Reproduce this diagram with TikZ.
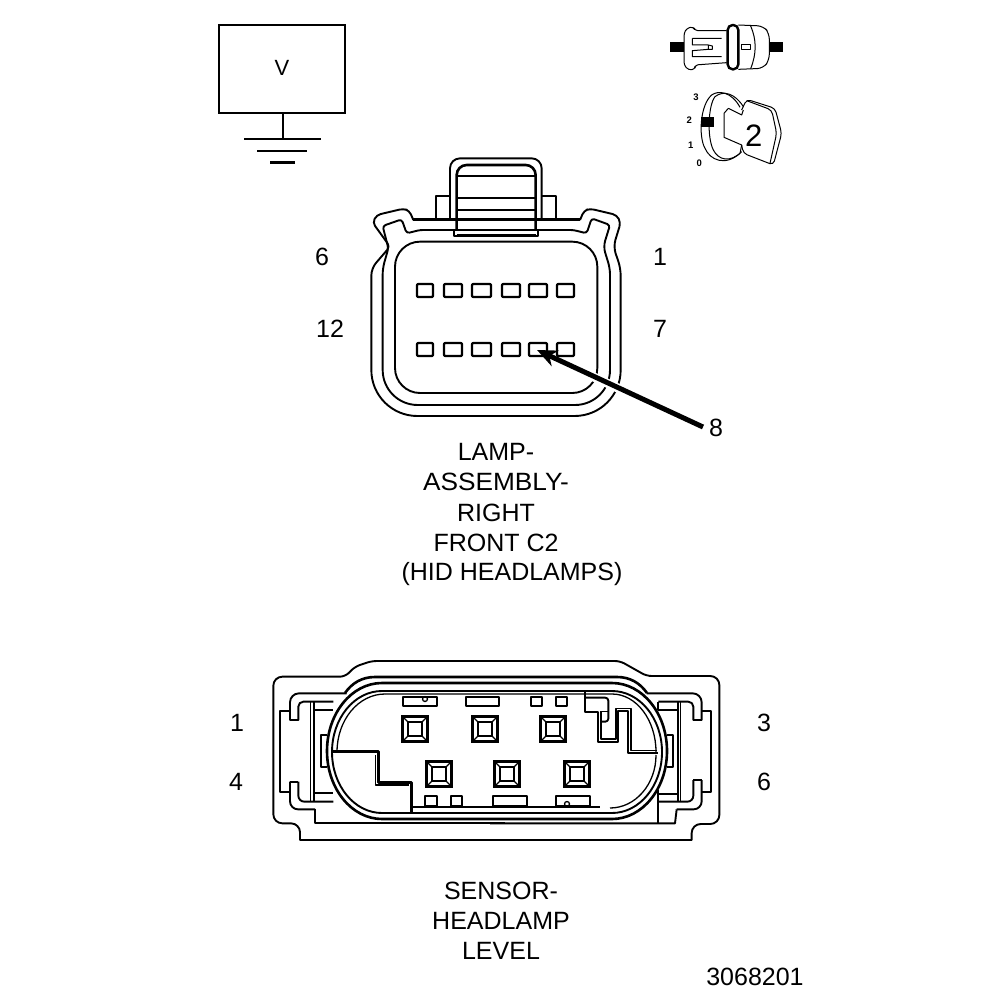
\documentclass[tikz,border=0pt]{standalone}
\usepackage{fontspec}
\setmainfont{Liberation Sans}
\usetikzlibrary{arrows.meta}
\tikzset{
  x=1pt,y=-1pt,
  thinl/.style={line width=1.3pt,line join=round},
  medl/.style={line width=1.9pt,line join=round},
  heavy/.style={line width=2.6pt,line join=round},
  lbl/.style={font=\fontsize{25}{25}\selectfont,inner sep=0pt,anchor=center},
  zoomI/.style={shift={(660,10)},scale=0.33333},
  zoomC/.style={shift={(360,150)},scale=0.33333},
  zoomL/.style={shift={(265,650)},scale=0.33333},
  zoomR/.style={shift={(490,650)},scale=0.33333},
  pinbox/.style={line width=2.2pt,line join=round,rounded corners=1pt},
  tabbox/.style={medl},
  iconl/.style={line width=1pt,line join=round},
  smallnum/.style={font=\bfseries\fontsize{9.5}{10}\selectfont,inner sep=0pt},
}
\newcommand{\sqpin}[2]{%
  \begin{scope}[shift={(#1,#2)}]
    \draw[line width=2.8pt] (-12.5,-12.5) rectangle (12.5,12.5);
    \draw[medl] (-7,-7) rectangle (7,7);
    \draw[thinl] (-12.5,-12.5)--(-7,-7) (12.5,-12.5)--(7,-7) (12.5,12.5)--(7,7) (-12.5,12.5)--(-7,7);
  \end{scope}}
\begin{document}
\begin{tikzpicture}
\useasboundingbox (0,0) rectangle (1008,1000);
\fill[white] (0,0) rectangle (1008,1000);

% voltmeter symbol
\draw[line width=2.4pt] (219,25) rectangle (345,113);
\node[font=\fontsize{22}{22}\selectfont,inner sep=0pt] (vlabel) at (282,68) {V};
\coordinate (stemtop) at (283,113);
\coordinate (stemend) at (283,139);
\draw[medl] (stemtop)--(stemend);
\draw[line width=2.4pt] (244,139)--(321,139);
\draw[medl] (257,151)--(307,151);
\draw[line width=3pt] (270,163)--(295,163);

% connector icon
\begin{scope}[zoomI]
  \fill (30,97) rectangle (72,127);
  \fill (328,97) rectangle (368,127);
  \draw[iconl,rounded corners=3pt] (200,62)--(105,62)--(100,50)--(80,55)--(72,70)--(72,165)--(85,180)--(105,178)--(105,165)--(200,158);
  \draw[iconl] (97,85)--(185,85) (97,85)--(97,105)--(145,105)--(145,118)--(97,122)--(97,140)--(185,140)
     (145,105)--(157,108)--(157,118)--(145,118);
  \draw[line width=2.4pt,rounded corners=5pt] (203,45) rectangle (235,178);
  \draw[iconl,rounded corners=6pt] (235,45)--(310,48)--(328,70)--(328,150)--(310,175)--(235,178);
  \draw[iconl] (272,48) .. controls (290,90) and (290,130) .. (272,176);
  \draw[iconl] (245,105) rectangle (272,118);
\end{scope}

% ignition key icon
\begin{scope}[zoomI]
  \draw[iconl] (240,292) .. controls (215,245) and (175,240) .. (155,255)
     .. controls (120,285) and (115,380) .. (135,415) .. controls (150,450) and (195,470) .. (240,430);
  \draw[iconl] (250,290) .. controls (225,250) and (190,240) .. (165,260)
     .. controls (145,285) and (140,380) .. (160,420) .. controls (175,450) and (210,460) .. (245,425);
  \fill (122,320) rectangle (162,350);
  \draw[iconl] (205,295)--(245,315)--(250,300) (205,295)--(192,310)--(192,382)--(245,405)--(240,430);
  \draw[iconl,rounded corners=4pt] (245,300)--(260,268)--(345,295)--(365,370)--(340,465)--(250,430)--(245,405);
  \draw[iconl,rounded corners=4pt] (260,272)--(335,300)--(350,370)--(330,460);
  \node[font=\fontsize{31}{31}\selectfont,inner sep=0pt] (keynum) at (281,378) {2};
  \node[smallnum] (pos3) at (108,262) {3};
  \node[smallnum] (pos2) at (88,332) {2};
  \node[smallnum] (pos1) at (92,405) {1};
  \node[smallnum] (pos0) at (118,460) {0};
\end{scope}

% lamp connector C2
\begin{scope}[zoomC]
  \draw[medl,rounded corners=4pt] (160,210)--(148,182)--(130,176)--(50,195)--(38,218)--(90,290)[rounded corners=7pt]--(34,355)
     [rounded corners=46pt]--(34,798)--(782,798)[rounded corners=7pt]--(782,355)--(760,290)[rounded corners=4pt]--(782,218)--(770,195)--(690,176)--(672,182)--(660,210);
  \draw[medl,rounded corners=3pt] (180,240)--(140,250)--(125,208)--(68,228)--(85,295)[rounded corners=6pt]--(68,355)
     [rounded corners=35pt]--(68,765)--(750,765)[rounded corners=6pt]--(750,355)--(730,290)[rounded corners=3pt]--(750,225)--(695,205)--(680,250)--(640,240)--cycle;
  \draw[medl,rounded corners=25pt] (105,275) rectangle (712,729);
  \draw[medl] (228,208)--(228,137)--(270,137) (545,137)--(588,137)--(588,208);
  \draw[medl,rounded corners=10pt] (270,208)--(270,25)--(545,25)--(545,208);
  \draw[heavy,rounded corners=10pt] (290,240)--(290,45)--(527,45)--(527,240);
  \draw[heavy] (160,208)--(660,208);
  \draw[medl] (290,78)--(527,78) (290,143)--(527,143) (290,180)--(527,180);
  \fill[white] (284,241) rectangle (534,256);
  \draw[medl] (283,240) rectangle (535,257);
  \draw[heavy] (290,257)--(527,257);
\end{scope}
\foreach \px/\pw [count=\i] in {417/16,444/18,472/19,502/18,529/18,557/17}{
  \draw[pinbox] (\px,284) rectangle ++(\pw,13);
  \draw[pinbox] (\px,343) rectangle ++(\pw,13);
}
\coordinate (arrowtip) at (537,350);
\node[lbl] (lab8) at (716,428) {8};
\coordinate (arrowtail) at (703,427);
\coordinate (arrowmid) at (585,373);
\draw[white,line width=9pt] (arrowmid)--(arrowtail);
\draw[line width=5pt,-{Stealth[length=20pt,width=17pt]}] (arrowtail)--(arrowtip);

\node[lbl] (c2a) at (322,257) {6};
\node[lbl] (c2b) at (660,257) {1};
\node[lbl] (c2c) at (330,329) {12};
\node[lbl] (c2d) at (660,329) {7};
\node[lbl] (t1) at (496,452) {LAMP-};
\node[lbl,xscale=1.05] (t2) at (496,482) {ASSEMBLY-};
\node[lbl] (t3) at (496,513) {RIGHT};
\node[lbl] (t4) at (496,543) {FRONT C2};
\node[lbl] (t5) at (512,574) {(HID HEADLAMPS)};

% headlamp level sensor: left half
\begin{scope}[zoomL]
  \draw[medl,rounded corners=5pt] (720,33)--(320,33)--(270,50)--(240,80)[rounded corners=9pt]--(25,80)--(25,520)--(105,520)[rounded corners=0pt]--(105,570)--(720,570);
  \draw[medl,rounded corners=9pt] (245,130)--(75,130)--(75,183)[sharp corners]--(75,210)--(100,210)[rounded corners=5pt]--(100,155)--(205,155);
  \draw[medl] (75,183)--(45,183)--(45,425)--(75,425);
  \draw[medl] (75,395)--(100,395);
  \draw[medl,rounded corners=6pt] (100,395)--(100,455)--(205,455);
  \draw[medl,rounded corners=8pt] (75,395)--(75,478)--(150,478);
  \draw[medl] (150,478)--(150,520)--(720,520);
  \draw[thinl] (137,155)--(137,455);
  \draw[medl] (148,155)--(148,455) (148,180)--(205,180) (148,430)--(205,430);
  \draw[medl] (185,255)--(168,255)--(168,352)--(185,352);
  % interior key
  \draw[heavy] (205,305)--(340,305)--(340,398)--(440,398)--(440,490);
  \draw[thinl] (332,315)--(332,405)--(433,405);
\end{scope}
% right half
\begin{scope}[zoomR]
  \draw[medl,rounded corners=5pt] (0,33)--(390,33)--(470,78)[rounded corners=9pt]--(688,78)--(688,522)--(605,522)[rounded corners=0pt]--(605,570)--(0,570);
  \draw[medl,rounded corners=9pt] (470,130)--(635,130)--(635,183)[sharp corners]--(635,210)--(610,210)[rounded corners=5pt]--(610,155)--(505,155);
  \draw[medl] (635,183)--(662,183)--(662,425)--(635,425);
  \draw[medl] (635,390)--(610,390);
  \draw[medl,rounded corners=6pt] (610,390)--(610,455)--(505,455);
  \draw[medl,rounded corners=8pt] (635,390)--(635,478)--(560,478);
  \draw[medl] (560,478)--(555,520)--(0,520);
  \draw[medl] (505,155)--(505,180) (505,420)--(505,520);
  \draw[thinl] (572,155)--(572,455);
  \draw[medl] (563,155)--(563,455) (505,180)--(563,180) (505,432)--(563,432);
  \draw[medl] (530,255)--(548,255)--(548,352)--(530,352);
  % interior key
  \draw[medl] (285,120)--(285,185)--(325,185)--(325,275)--(385,275)--(385,183)--(415,183)--(415,310)--(505,310);
  \draw[thinl] (333,185)--(333,267)--(378,267)--(378,175)--(423,175)--(423,302)--(500,302);
  \draw[medl,rounded corners=3pt] (285,143)--(355,143)--(355,215)--(330,215);
  \draw[thinl] (330,185)--(355,185);
\end{scope}
% ovals
\draw[heavy] (345,693) .. controls (352,683) and (362,677) .. (375,677)--(617,677) .. controls (630,677) and (640,683) .. (647,693);
\draw[heavy] (382,683)--(612,683) arc[start angle=-90,end angle=90,x radius=55,y radius=68]--(382,819) arc[start angle=90,end angle=270,x radius=55,y radius=68];
\draw[medl] (382,691)--(612,691) arc[start angle=-90,end angle=90,x radius=50,y radius=61]--(382,813) arc[start angle=90,end angle=270,x radius=50,y radius=61];
\draw[thinl] (385,694)--(612,694) arc[start angle=-90,end angle=0,x radius=44,y radius=58];
\draw[thinl] (656,755) arc[start angle=0,end angle=90,x radius=46,y radius=53];
\draw[heavy] (413,807)--(600,807);
\draw[thinl] (337,752) arc[start angle=180,end angle=270,x radius=48,y radius=58];

% pins
\sqpin{415}{729}\sqpin{485}{729}\sqpin{553}{729}
\sqpin{439}{774}\sqpin{507}{774}\sqpin{577}{774}
\draw[tabbox] (403,697) rectangle (437,706);
\draw[thinl] (425,699) circle (2.5);
\draw[tabbox] (466,697) rectangle (499,706);
\draw[tabbox] (531,697) rectangle (542,706);
\draw[tabbox] (556,697) rectangle (567,706);
\draw[tabbox] (425,796) rectangle (437,806);
\draw[tabbox] (451,796) rectangle (462,806);
\draw[tabbox] (493,796) rectangle (527,806);
\draw[tabbox] (556,796) rectangle (590,806);
\draw[thinl] (567,804) circle (2.5);

\node[lbl] (s1) at (237,723) {1};
\node[lbl] (s2) at (236,782) {4};
\node[lbl] (s3) at (764,723) {3};
\node[lbl] (s4) at (764,782) {6};
\node[lbl] (t6) at (501,891) {SENSOR-};
\node[lbl] (t7) at (501,921) {HEADLAMP};
\node[lbl] (t8) at (501,951) {LEVEL};
\node[lbl] (partno) at (755,977) {3068201};
\end{tikzpicture}
\end{document}
